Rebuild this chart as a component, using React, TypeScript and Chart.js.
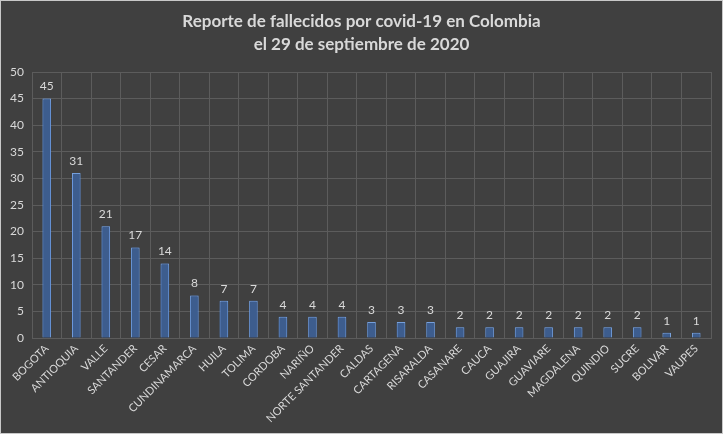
import React, { useEffect, useRef } from "react";
import { Chart, registerables } from "chart.js";

Chart.register(...registerables);

const titleLines = ["Reporte de fallecidos por covid-19 en Colombia", "el 29 de septiembre de 2020"];
const categories = [
  "BOGOTA", "ANTIOQUIA", "VALLE", "SANTANDER", "CESAR", "CUNDINAMARCA", "HUILA", "TOLIMA",
  "CORDOBA", "NARIÑO", "NORTE SANTANDER", "CALDAS", "CARTAGENA", "RISARALDA", "CASANARE",
  "CAUCA", "GUAJIRA", "GUAVIARE", "MAGDALENA", "QUINDIO", "SUCRE", "BOLIVAR", "VAUPES",
];
const deaths = [45, 31, 21, 17, 14, 8, 7, 7, 4, 4, 4, 3, 3, 3, 2, 2, 2, 2, 2, 2, 2, 1, 1];
const yMax = 50;
const yStep = 5;

const FONT = "Lato, 'Open Sans', sans-serif";
const TEXT = "#d9d9d9";

const bgPlugin = {
  id: "bgFrame",
  beforeDraw(chart: any) {
    const { ctx, width, height } = chart;
    ctx.save();
    ctx.fillStyle = "#404040";
    ctx.fillRect(0, 0, width, height);
    ctx.strokeStyle = "#c8c8c8";
    ctx.lineWidth = 1;
    ctx.strokeRect(0.5, 0.5, width - 1, height - 1);
    ctx.fillStyle = TEXT;
    ctx.font = `bold 17px ${FONT}`;
    ctx.textAlign = "center";
    ctx.textBaseline = "middle";
    titleLines.forEach((t, i) => ctx.fillText(t, width / 2, 22 + i * 23));
    ctx.restore();
  },
};

const glowPlugin = {
  id: "glow",
  beforeDatasetsDraw(chart: any) {
    const ctx = chart.ctx;
    ctx.save();
    ctx.shadowColor = "rgba(50,110,210,0.75)";
    ctx.shadowBlur = 6;
  },
  afterDatasetsDraw(chart: any) {
    const ctx = chart.ctx;
    ctx.restore();
    ctx.save();
    ctx.fillStyle = TEXT;
    ctx.font = `12px ${FONT}`;
    ctx.textAlign = "center";
    ctx.textBaseline = "bottom";
    const meta = chart.getDatasetMeta(0);
    meta.data.forEach((bar: any, i: number) => {
      ctx.fillText(String(deaths[i]), bar.x, bar.y - 6);
    });
    ctx.restore();
  },
};

export default function App() {
  const ref = useRef<HTMLCanvasElement>(null);
  useEffect(() => {
    document.body.style.margin = "0";
    const chart = new Chart(ref.current!, {
      type: "bar",
      data: {
        labels: categories,
        datasets: [
          {
            data: deaths,
            backgroundColor: "#3d5d8e",
            borderColor: "#86acdf",
            borderWidth: 1,
            barPercentage: 0.29,
            categoryPercentage: 1,
          },
        ],
      },
      options: {
        animation: false,
        responsive: false,
        maintainAspectRatio: false,
        layout: { padding: { top: 72, right: 12, left: 0, bottom: 0 } },
        plugins: { legend: { display: false }, title: { display: false }, tooltip: { enabled: false } },
        scales: {
          x: {
            grid: { color: "#5c5c5c", offset: true, drawTicks: false },
            border: { color: "#5c5c5c" },
            ticks: {
              color: TEXT,
              font: { family: FONT, size: 11 },
              minRotation: 45,
              maxRotation: 45,
              autoSkip: false,
              padding: 4,
            },
            afterFit(scale: any) {
              scale.height = 96;
            },
          },
          y: {
            min: 0,
            max: yMax,
            grid: { color: "#5c5c5c", drawTicks: false },
            border: { color: "#5c5c5c" },
            ticks: {
              stepSize: yStep,
              color: TEXT,
              font: { family: FONT, size: 12 },
              padding: 8,
            },
            afterFit(scale: any) {
              scale.width = 32;
            },
          },
        },
      },
      plugins: [bgPlugin, glowPlugin],
    });
    return () => chart.destroy();
  }, []);
  return <canvas ref={ref} width={723} height={434} style={{ display: "block" }} />;
}
